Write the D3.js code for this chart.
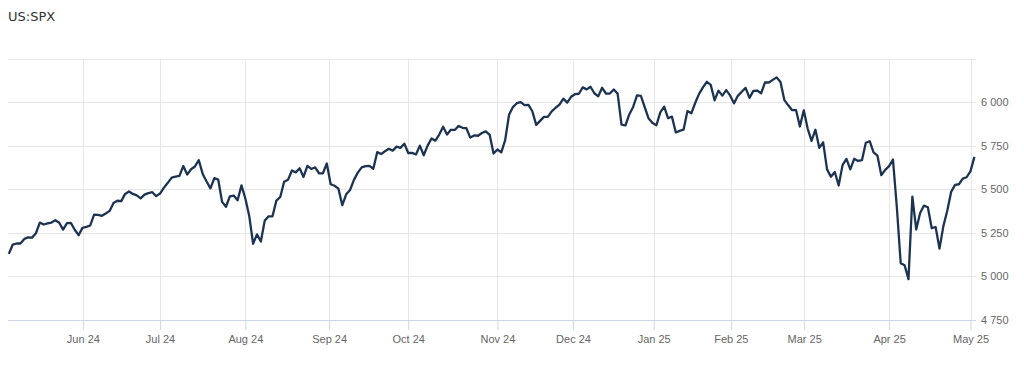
<!DOCTYPE html>
<html>
<head>
<meta charset="utf-8">
<script src="https://cdnjs.cloudflare.com/ajax/libs/d3/7.8.5/d3.min.js"></script>
<style>
  body { margin: 0; background: #fff; }
  svg { display: block; font-family: "DejaVu Sans", Verdana, sans-serif; }
  .title { font-size: 13px; fill: #333; }
  .axis text { font-size: 11px; fill: #666; }
</style>
</head>
<body>
<svg id="chart"></svg>
<script>
// Daily closes, one array per month (trading days only)
const may24 = [5127.79, 5180.74, 5187.70, 5187.67, 5214.08, 5222.68, 5221.42, 5246.68, 5308.15, 5297.10,
  5303.27, 5308.13, 5321.41, 5307.01, 5267.84, 5304.72, 5306.04, 5266.95, 5235.48, 5277.51];
const jun24 = [5283.40, 5291.34, 5354.03, 5352.96, 5346.99, 5360.79, 5375.32, 5421.03, 5433.74, 5431.60,
  5473.23, 5487.03, 5473.17, 5464.62, 5447.87, 5469.30, 5477.90, 5482.87, 5460.48];
const jul24 = [5475.09, 5509.01, 5537.02, 5567.19, 5572.85, 5576.98, 5633.91, 5584.54, 5615.35, 5631.22,
  5667.20, 5588.27, 5544.59, 5505.00, 5564.41, 5555.74, 5427.13, 5399.22, 5459.10, 5463.54, 5436.44, 5522.30];
const aug24 = [5446.68, 5346.56, 5186.33, 5240.03, 5199.50, 5319.31, 5344.16, 5344.39, 5434.43, 5455.21,
  5543.22, 5554.25, 5608.25, 5597.12, 5620.85, 5570.64, 5634.61, 5616.84, 5625.80, 5592.18, 5591.96, 5648.40];
const sep24 = [5528.93, 5520.07, 5503.41, 5408.42, 5471.05, 5495.52, 5554.13, 5595.76, 5626.02, 5633.09,
  5634.58, 5618.26, 5713.64, 5702.55, 5718.57, 5732.93, 5722.26, 5745.37, 5738.17, 5762.48];
const oct24 = [5708.75, 5709.54, 5699.94, 5751.07, 5695.94, 5751.13, 5792.04, 5780.05, 5815.03, 5859.85,
  5815.26, 5842.47, 5841.47, 5864.67, 5853.98, 5851.20, 5797.42, 5809.86, 5808.12, 5823.52, 5832.92, 5813.67, 5705.45];
const nov24 = [5728.80, 5712.69, 5782.76, 5929.04, 5973.10, 5995.54, 6001.35, 5983.99, 5985.38, 5949.17,
  5870.62, 5893.62, 5916.98, 5917.11, 5948.71, 5969.34, 5987.37, 6021.63, 5998.74, 6032.38];
const dec24 = [6047.15, 6049.88, 6086.49, 6075.11, 6090.27, 6052.85, 6034.91, 6084.19, 6051.25, 6051.09,
  6074.08, 6050.61, 5872.16, 5867.08, 5930.85, 5974.07, 6040.04, 6037.59, 5970.84, 5906.94, 5881.63];
const jan25 = [5868.55, 5942.47, 5975.38, 5909.03, 5918.25, 5827.04, 5836.22, 5842.91, 5949.91, 5937.34,
  5996.66, 6049.24, 6086.37, 6118.71, 6101.24, 6012.28, 6067.70, 6039.31, 6071.17, 6040.53];
const feb25 = [5994.57, 6037.88, 6061.48, 6083.57, 6025.99, 6066.44, 6068.50, 6051.97, 6115.07, 6114.63,
  6129.58, 6144.15, 6117.52, 6013.13, 5983.25, 5955.25, 5956.06, 5861.57, 5954.50];
const mar25 = [5849.72, 5778.15, 5842.63, 5738.52, 5770.20, 5614.56, 5572.07, 5599.30, 5521.52, 5638.94,
  5675.12, 5614.66, 5675.29, 5662.89, 5667.56, 5767.57, 5776.65, 5712.20, 5693.31, 5580.94, 5611.85];
const apr25 = [5633.07, 5670.97, 5396.52, 5074.08, 5062.25, 4982.77, 5456.90, 5268.05, 5363.36, 5405.97,
  5396.63, 5275.70, 5282.70, 5158.20, 5287.76, 5375.86, 5484.77, 5525.21, 5528.75, 5560.83, 5569.06];
const may25 = [5604.14, 5686.67];

// Month ticks, placed on the trading-day index axis
const tickLabels = ["Jun 24", "Jul 24", "Aug 24", "Sep 24", "Oct 24", "Nov 24", "Dec 24",
  "Jan 25", "Feb 25", "Mar 25", "Apr 25", "May 25"];
const tickIndex = [19.1, 39, 61, 82.6, 103, 126, 145.5, 166.3, 186.2, 205.1, 227, 248];
const yTicks = [4750, 5000, 5250, 5500, 5750, 6000, 6250];

const closes = [].concat(may24, jun24, jul24, aug24, sep24, oct24, nov24, dec24,
  jan25, feb25, mar25, apr25, may25);

const width = 1024, height = 366;
const plot = { left: 8, right: 976, top: 59, bottom: 320 };

const svg = d3.select("#chart")
    .attr("width", width)
    .attr("height", height);

const x = d3.scaleLinear()
    .domain([0, closes.length - 1])
    .range([8.8, 974.4]);

const y = d3.scaleLinear()
    .domain([4750, 6250])
    .range([plot.bottom - 0.5, plot.top]);

const fmt = d3.formatLocale({ decimal: ".", thousands: " ", grouping: [3], currency: ["", ""] }).format(",");

// Title
svg.append("text")
    .attr("class", "title")
    .attr("x", 8)
    .attr("y", 21)
    .text("US:SPX");

// Horizontal grid
svg.append("g")
    .selectAll("line")
    .data(yTicks.slice(1))
    .enter().append("line")
    .attr("x1", plot.left).attr("x2", plot.right)
    .attr("y1", d => Math.round(y(d)) + 0.5).attr("y2", d => Math.round(y(d)) + 0.5)
    .attr("stroke", "#e6e6e6");

// Vertical grid
svg.append("g")
    .selectAll("line")
    .data(tickIndex)
    .enter().append("line")
    .attr("x1", d => Math.round(x(d)) + 0.5).attr("x2", d => Math.round(x(d)) + 0.5)
    .attr("y1", plot.top).attr("y2", plot.bottom)
    .attr("stroke", "#e6e6e6");

// X axis
const xAxis = d3.axisBottom(x)
    .tickValues(tickIndex)
    .tickFormat((d, i) => tickLabels[i])
    .tickSize(10)
    .tickPadding(5);

const gx = svg.append("g")
    .attr("class", "axis")
    .attr("transform", `translate(0,${plot.bottom})`)
    .call(xAxis);
gx.select(".domain").remove();
gx.selectAll(".tick line").attr("stroke", "#ccd6eb");
gx.append("line")
    .attr("x1", plot.left).attr("x2", plot.right)
    .attr("y1", 0.5).attr("y2", 0.5)
    .attr("stroke", "#ccd6eb");

// Y axis on the right
const yAxis = d3.axisRight(y)
    .tickValues(yTicks.slice(0, -1))
    .tickFormat(fmt)
    .tickSize(0)
    .tickPadding(5);

const gy = svg.append("g")
    .attr("class", "axis")
    .attr("transform", `translate(${plot.right},0)`)
    .call(yAxis);
gy.select(".domain").remove();

// Price line
const line = d3.line()
    .x((d, i) => x(i))
    .y(d => y(d));

svg.append("path")
    .datum(closes)
    .attr("fill", "none")
    .attr("stroke", "#1c3452")
    .attr("stroke-width", 2.3)
    .attr("stroke-linejoin", "round")
    .attr("d", line);
</script>
</body>
</html>
